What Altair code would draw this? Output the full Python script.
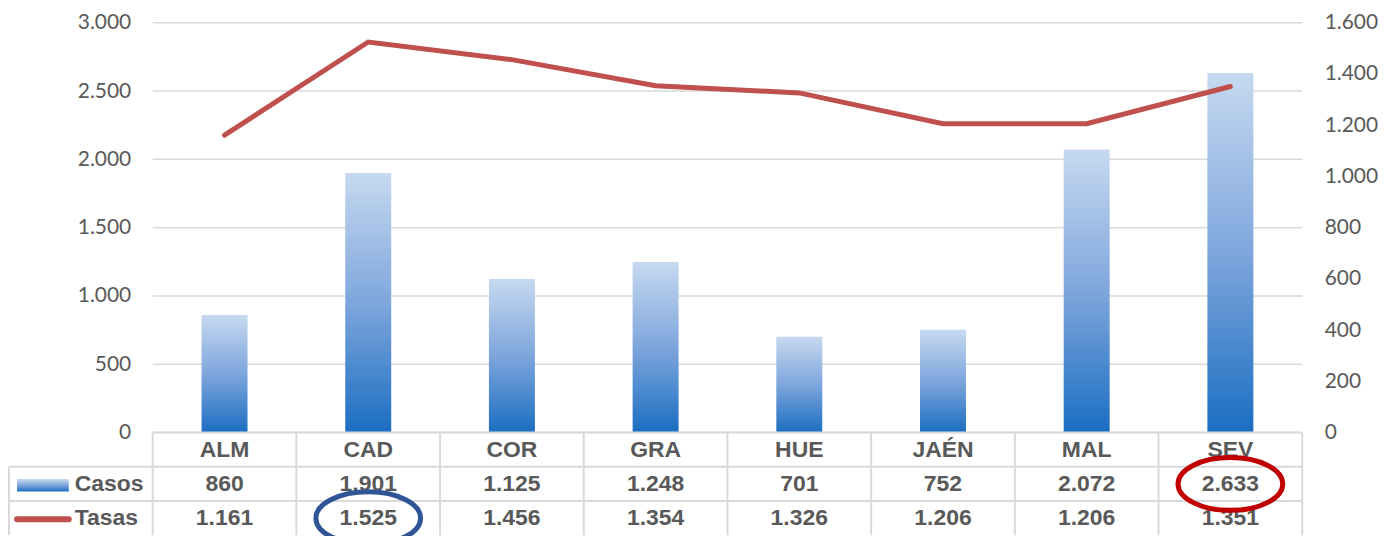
import altair as alt
import pandas as pd

# ---- data ----
categorias = ["ALM", "CAD", "COR", "GRA", "HUE", "JAÉN", "MAL", "SEV"]
casos = [860, 1901, 1125, 1248, 701, 752, 2072, 2633]
tasas = [1161, 1525, 1456, 1354, 1326, 1206, 1206, 1351]
ticks_casos = [0, 500, 1000, 1500, 2000, 2500, 3000]
ticks_tasas = [0, 200, 400, 600, 800, 1000, 1200, 1400, 1600]
series = ["Casos", "Tasas"]
destacados = [("SEV", "Casos", "#c00000"), ("CAD", "Tasas", "#2f5597")]


def fmt(v):
    return f"{v:,}".replace(",", ".")


n = len(categorias)
ncols = n + 1  # first column holds the legend of the data table
nrows = len(series) + 1

df = pd.DataFrame({"cat": categorias, "casos": casos, "tasas": tasas,
                   "col": list(range(1, n + 1))})

tabla_rows = []
for i, c in enumerate(categorias):
    tabla_rows.append({"col": i + 1, "row": 0, "txt": c})
    tabla_rows.append({"col": i + 1, "row": 1, "txt": fmt(casos[i])})
    tabla_rows.append({"col": i + 1, "row": 2, "txt": fmt(tasas[i])})
tabla = pd.DataFrame(tabla_rows)

leg_df = pd.DataFrame({"serie": series, "row": [1, 2]})
hl_df = pd.DataFrame([{"col": categorias.index(c) + 1, "row": series.index(s) + 1, "color": col}
                      for c, s, col in destacados])
hlines = pd.DataFrame({"y": list(range(0, nrows)),
                       "xa": [1] + [0] * (nrows - 1),
                       "xb": [ncols] * nrows})
vlines = pd.DataFrame({"x": list(range(1, ncols + 1)) + [0],
                       "ya": [0] * ncols + [1],
                       "yb": [nrows] * (ncols + 1)})
grid_df = pd.DataFrame({"v": ticks_casos})

# ---- styling ----
W, H, RH = 1297, 411, 103
GRAY = "#595959"
LINE = "#c0504d"
GRID = "#d9d9d9"
label_expr = "replace(format(datum.value, ','), ',', '.')"

grad = alt.Gradient(
    gradient="linear",
    stops=[alt.GradientStop(color="#1b6ec2", offset=0),
           alt.GradientStop(color="#7ea6dc", offset=0.5),
           alt.GradientStop(color="#c6d9f0", offset=1)],
    x1=0, x2=0, y1=1, y2=0,
)

xs = alt.Scale(domain=[0, ncols], nice=False, zero=False)

# ---- top panel: bars + line ----
grid = alt.Chart(grid_df).transform_calculate(
    xa="1", xb=str(ncols)
).mark_rule(color=GRID, strokeWidth=1.5).encode(
    x=alt.X("xa:Q", scale=xs, axis=None),
    x2="xb:Q",
    y=alt.Y("v:Q", scale=alt.Scale(domain=[0, 3000], nice=False), axis=None),
)

base = alt.Chart(df).transform_calculate(
    c="datum.col + 0.5", xa="datum.col + 0.34", xb="datum.col + 0.66", z="0"
)

bars = base.mark_bar(color=grad).encode(
    x=alt.X("xa:Q", scale=xs, axis=None),
    x2="xb:Q",
    y=alt.Y("casos:Q", scale=alt.Scale(domain=[0, 3000], nice=False), title=None,
            axis=alt.Axis(orient="left", values=ticks_casos, offset=-W / ncols, grid=False,
                          ticks=False, domain=False, labelPadding=22, labelFont="Lato",
                          labelFontSize=21, labelColor=GRAY, labelExpr=label_expr)),
    y2="z:Q",
)

line = base.mark_line(color=LINE, strokeWidth=5, strokeCap="round", strokeJoin="miter").encode(
    x=alt.X("c:Q", scale=xs, axis=None),
    y=alt.Y("tasas:Q", scale=alt.Scale(domain=[0, 1600], nice=False), title=None,
            axis=alt.Axis(orient="right", values=ticks_tasas, grid=False, ticks=False,
                          domain=False, labelPadding=22, labelFont="Lato",
                          labelFontSize=21, labelColor=GRAY, labelExpr=label_expr)),
)

top = alt.layer(grid, bars, line).resolve_scale(y="independent").properties(width=W, height=H)

# ---- bottom panel: data table ----
ys = alt.Scale(domain=[0, nrows], reverse=True, nice=False, zero=False)

hl = alt.Chart(hlines).mark_rule(color=GRID, strokeWidth=2).encode(
    x=alt.X("xa:Q", scale=xs, axis=None), x2="xb:Q",
    y=alt.Y("y:Q", scale=ys, axis=None),
)
vl = alt.Chart(vlines).mark_rule(color=GRID, strokeWidth=2).encode(
    x=alt.X("x:Q", scale=xs, axis=None),
    y=alt.Y("ya:Q", scale=ys, axis=None), y2="yb:Q",
)

txt = alt.Chart(tabla).transform_calculate(
    cx="datum.col + 0.5", cy="datum.row + 0.5"
).mark_text(font="Liberation Sans", fontWeight="bold", fontSize=23, color=GRAY,
            baseline="middle").encode(
    x=alt.X("cx:Q", scale=xs, axis=None),
    y=alt.Y("cy:Q", scale=ys, axis=None),
    text="txt:N",
)

leg_txt = alt.Chart(leg_df).transform_calculate(
    cx="0", cy="datum.row + 0.5"
).mark_text(font="Liberation Sans", fontWeight="bold", fontSize=23, color=GRAY,
            baseline="middle", align="left", dx=66).encode(
    x=alt.X("cx:Q", scale=xs, axis=None),
    y=alt.Y("cy:Q", scale=ys, axis=None),
    text="serie:N",
)

sw_casos = alt.Chart(leg_df).transform_filter("datum.row == 1").transform_calculate(
    xa="0.056", xb="0.416", ya="datum.row + 0.36", yb="datum.row + 0.72"
).mark_rect(color=grad).encode(
    x=alt.X("xa:Q", scale=xs, axis=None), x2="xb:Q",
    y=alt.Y("ya:Q", scale=ys, axis=None), y2="yb:Q",
)
sw_tasas = alt.Chart(leg_df).transform_filter("datum.row == 2").transform_calculate(
    xa="0.056", xb="0.416", ya="datum.row + 0.53"
).mark_rule(color=LINE, strokeWidth=6, strokeCap="round").encode(
    x=alt.X("xa:Q", scale=xs, axis=None), x2="xb:Q",
    y=alt.Y("ya:Q", scale=ys, axis=None),
)

ellipse = "M-1,0A1,0.505,0,1,1,1,0A1,0.505,0,1,1,-1,0Z"
marks = alt.Chart(hl_df).transform_calculate(
    cx="datum.col + 0.5", cy="datum.row + 0.5"
).mark_point(shape=ellipse, size=11025, filled=False, strokeWidth=5, opacity=1).encode(
    x=alt.X("cx:Q", scale=xs, axis=None),
    y=alt.Y("cy:Q", scale=ys, axis=None),
    color=alt.Color("color:N", scale=None),
)

bottom = alt.layer(hl, vl, txt, leg_txt, sw_casos, sw_tasas, marks).properties(width=W, height=RH)

chart = alt.vconcat(top, bottom, spacing=0, bounds="flush").configure_view(stroke=None).properties(
    padding={"left": 0, "top": 3, "right": 0, "bottom": 0}
)

chart.save("out.html", embed_options={"renderer": "svg", "actions": False})
